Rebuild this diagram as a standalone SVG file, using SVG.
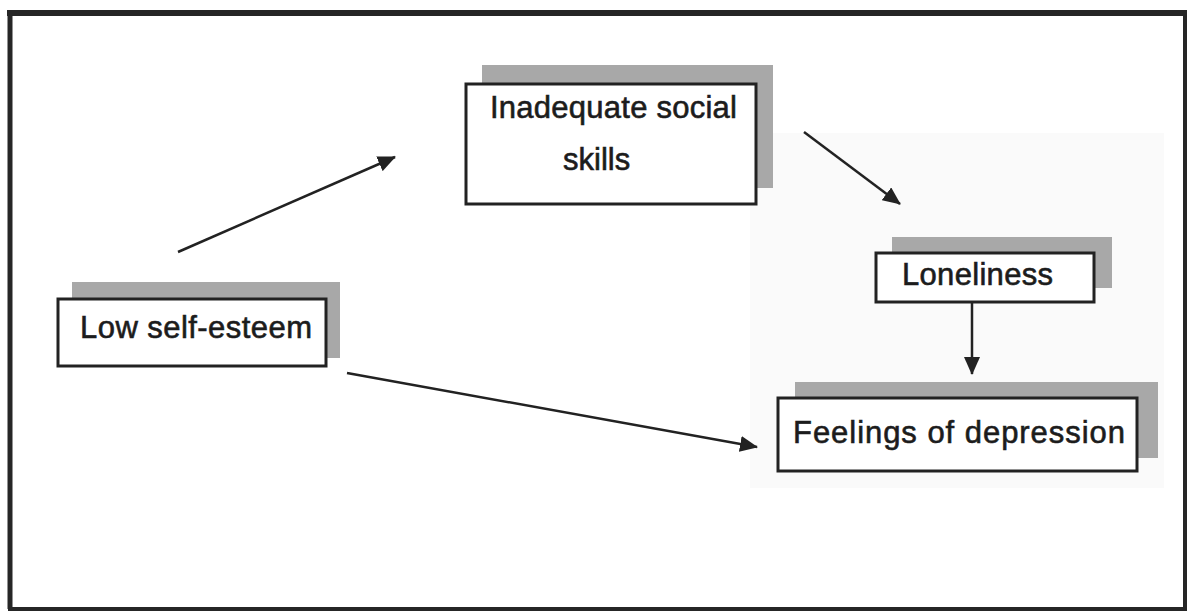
<svg xmlns="http://www.w3.org/2000/svg" width="1189" height="611" viewBox="0 0 1189 611">
<defs>
<style>
.shadow{fill:#a8a8a8}
.box{fill:#ffffff;stroke:#222;stroke-width:3}
.lbl{font-family:"Liberation Sans",Arial,sans-serif;font-size:31px;fill:#1c1c1c;stroke:#1c1c1c;stroke-width:0.6}
.conn{stroke:#222;stroke-width:2.5;fill:none}
</style>
<marker id="ah" viewBox="0 0 18 16" refX="17" refY="8" markerWidth="18" markerHeight="16" markerUnits="userSpaceOnUse" orient="auto">
<path d="M0,0 L18,8 L0,16 Z" fill="#222"/>
</marker>
</defs>
<rect x="0" y="0" width="1189" height="611" fill="#ffffff"/>
<rect x="750" y="133" width="414" height="355" fill="#fafafa"/>
<path d="M10,609 L10,13 L1185,13 L1185,609 Z" fill="none" stroke="#262626" stroke-width="4"/>
<path d="M7,13 L1187,13" stroke="#262626" stroke-width="6"/>
<path d="M10,11 L10,609" stroke="#262626" stroke-width="5"/>

<g id="connectors">
<line class="conn" x1="178" y1="252" x2="395" y2="157" marker-end="url(#ah)"/>
<line class="conn" x1="804" y1="132" x2="900" y2="204" marker-end="url(#ah)"/>
<line class="conn" x1="972" y1="303" x2="972" y2="374" marker-end="url(#ah)"/>
<line class="conn" x1="347" y1="373" x2="757" y2="447" marker-end="url(#ah)"/>
</g>

<g id="node-inadequate">
<rect class="shadow" x="482" y="65" width="291" height="123"/>
<rect class="box" x="466" y="84" width="290" height="120"/>
<text class="lbl" x="490" y="118" textLength="247">Inadequate social</text>
<text class="lbl" x="563" y="170">skills</text>
</g>

<g id="node-low">
<rect class="shadow" x="72" y="282" width="268" height="76"/>
<rect class="box" x="58" y="299" width="268" height="67"/>
<text class="lbl" x="80" y="338" textLength="232">Low self-esteem</text>
</g>

<g id="node-loneliness">
<rect class="shadow" x="892" y="237" width="220" height="51"/>
<rect class="box" x="876" y="253" width="218" height="49"/>
<text class="lbl" x="902" y="285" textLength="151">Loneliness</text>
</g>

<g id="node-depression">
<rect class="shadow" x="795" y="382" width="363" height="76"/>
<rect class="box" x="778" y="398" width="359" height="73"/>
<text class="lbl" x="793" y="443" textLength="332">Feelings of depression</text>
</g>
</svg>
